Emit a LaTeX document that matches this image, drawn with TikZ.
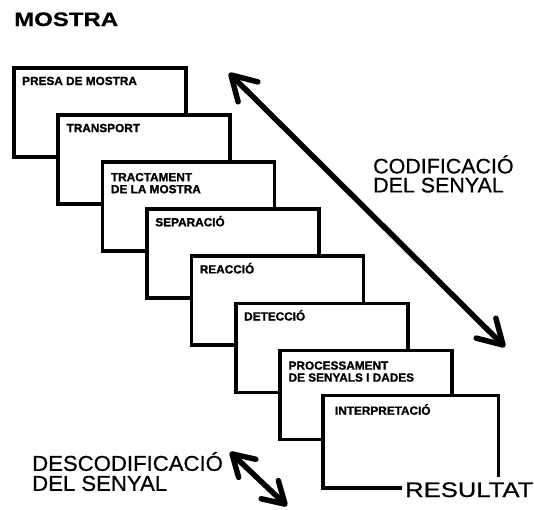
\documentclass[tikz,border=0pt]{standalone}
\usepackage{fontspec}
\setmainfont{Liberation Sans}
\newfontfamily\titlefont[FakeStretch=1.23,FakeBold=0.6]{Liberation Sans}
\newfontfamily\resfont[FakeStretch=1.22,FakeBold=0.6]{Liberation Sans}
\newfontfamily\descfont[FakeStretch=1.03,FakeBold=0.6]{Liberation Sans}
\newfontfamily\codfont[FakeStretch=1.02,FakeBold=0.6]{Liberation Sans}
\newfontfamily\labfont[FakeBold=1.2]{Liberation Sans}
\usetikzlibrary{arrows.meta,calc}
\begin{document}
\begin{tikzpicture}[x=1pt,y=-1pt,
  stagebox/.style={draw=black,fill=white,line width=3.5pt,minimum width=172pt,minimum height=89pt,anchor=north west,inner sep=0pt},
  lab/.style={anchor=base west,inner sep=0pt,align=left,font=\labfont\bfseries\fontsize{11.8}{12}\selectfont},
  big/.style={inner sep=0pt,align=left,font=\codfont\fontsize{21}{19}\selectfont},
  dblarrow/.style={line width=5.5pt,line cap=round,line join=round,
    {Straight Barb[length=24pt,width=28pt,line cap=round,line join=round]}-{Straight Barb[length=24pt,width=28pt,line cap=round,line join=round]}},
  smallarrow/.style={line width=5.5pt,line cap=round,line join=round,
    {Straight Barb[length=21pt,width=25pt,line cap=round,line join=round]}-{Straight Barb[length=21pt,width=25pt,line cap=round,line join=round]}}
]
\useasboundingbox (0,0) rectangle (534,509);

\node[inner sep=0pt,anchor=base west,font=\titlefont\bfseries\fontsize{19.5}{20}\selectfont] (mostra) at (14,26) {MOSTRA};

\node[stagebox] (b1) at (12,66) {};
\node[lab] (l1) at ([shift={(10,19)}]b1.north west) {PRESA DE MOSTRA};
\node[stagebox] (b2) at (56.4,113.1) {};
\node[lab] (l2) at ([shift={(10,19)}]b2.north west) {TRANSPORT};
\node[stagebox] (b3) at (100.8,160.2) {};
\node[lab] (l3) at ([shift={(10,33)}]b3.north west) {TRACTAMENT\\DE LA MOSTRA};
\node[stagebox] (b4) at (145.2,207.3) {};
\node[lab] (l4) at ([shift={(10,19)}]b4.north west) {SEPARACIÓ};
\node[stagebox] (b5) at (189.6,254.4) {};
\node[lab] (l5) at ([shift={(10,19)}]b5.north west) {REACCIÓ};
\node[stagebox] (b6) at (234,301.5) {};
\node[lab] (l6) at ([shift={(10,19)}]b6.north west) {DETECCIÓ};
\node[stagebox] (b7) at (278.4,348.6) {};
\node[lab] (l7) at ([shift={(10,33)}]b7.north west) {PROCESSAMENT\\DE SENYALS I DADES};
\node[stagebox,draw=none] (b8) at (322.8,395.7) {};
\node[lab] (l8) at ([shift={(12,19)}]b8.north west) {INTERPRETACIÓ};

\node[inner sep=0pt,anchor=base west,font=\resfont\fontsize{21}{21}\selectfont] (res) at (405,497) {RESULTAT};
\draw[line width=3.5pt] ([xshift=-3pt]res.west |- b8.south) -- (b8.south west) -- (b8.north west) -- (b8.north east) -- ($(b8.south east)+(0,-11)$);

\node[big,anchor=north west] (cod) at (373,155) {CODIFICACIÓ\\DEL SENYAL};
\node[big,anchor=north west,font=\descfont\fontsize{21.5}{20}\selectfont] (desc) at (32,452) {DESCODIFICACIÓ\\DEL SENYAL};

\coordinate (a1) at (229,73);
\coordinate (a2) at (505,347);
\coordinate (s1) at (230,452);
\coordinate (s2) at (287,506);
\draw[dblarrow] (a1) -- (a2);
\draw[smallarrow] (s1) -- (s2);
\end{tikzpicture}
\end{document}
